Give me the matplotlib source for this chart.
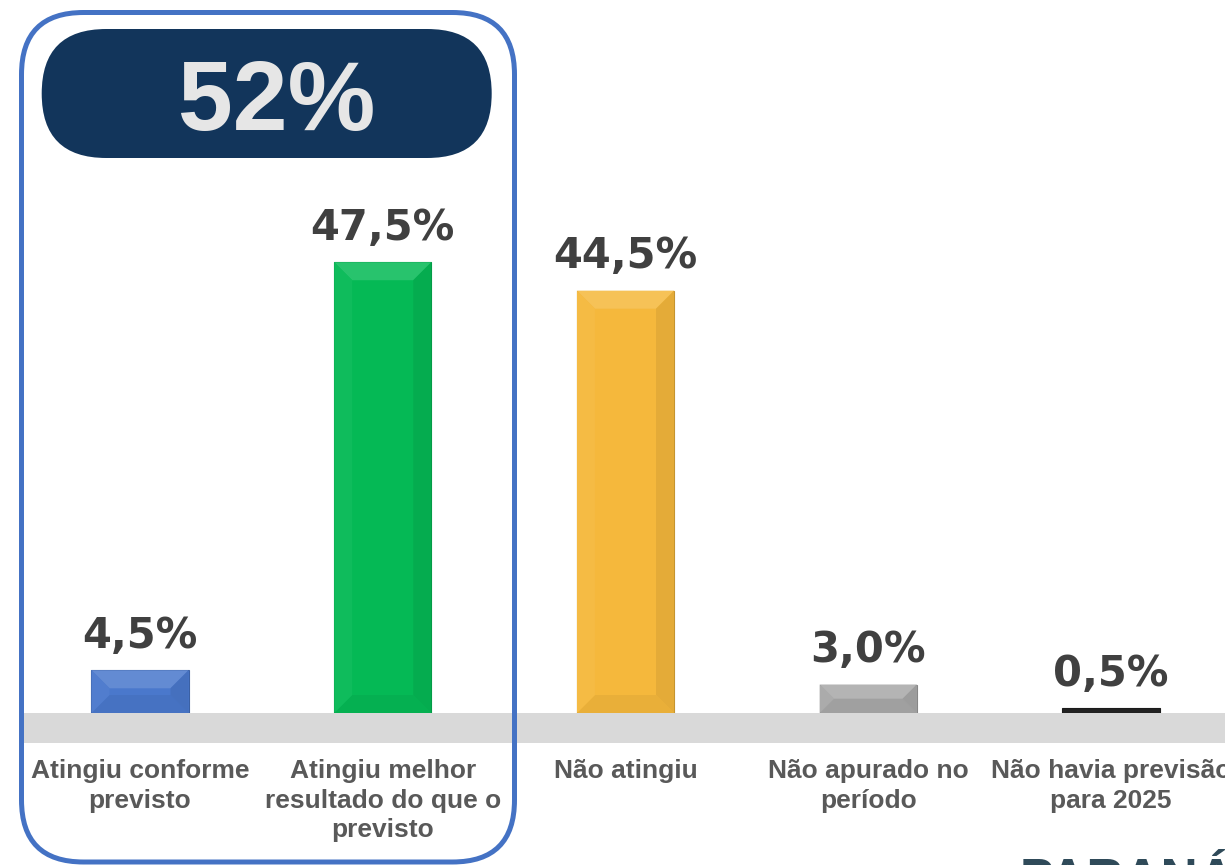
import matplotlib
matplotlib.use("Agg")
import matplotlib.pyplot as plt
from matplotlib.patches import Polygon, Rectangle, FancyBboxPatch
from matplotlib.colors import to_rgb

# Dados do gráfico
categorias = [
    "Atingiu conforme\nprevisto",
    "Atingiu melhor\nresultado do que o\nprevisto",
    "Não atingiu",
    "Não apurado no\nperíodo",
    "Não havia previsão\npara 2025",
]
valores = [4.5, 47.5, 44.5, 3.0, 0.5]
cores = ["#4a78cc", "#05b955", "#f5b83c", "#a8a8a8", "#222222"]
destaque = "52%"
rodape = "PARANÁ"


def misturar(cor, alvo, t):
    c = to_rgb(cor)
    a = to_rgb(alvo)
    return tuple(c[i] * (1 - t) + a[i] * t for i in range(3))


fig = plt.figure(figsize=(12.25, 8.65), dpi=100)
fig.patch.set_facecolor("white")

# eixo: base das barras em y=713 px, passo entre categorias 242.75 px
ax = fig.add_axes([0, 152 / 865, 1, 713 / 865])
ax.set_xlim(-140 / 242.75, (1225 - 140) / 242.75)
ax.set_ylim(0, 713 / 9.49)
ax.set_facecolor("none")
for s in ax.spines.values():
    s.set_visible(False)
ax.set_yticks([])

x = list(range(len(valores)))
largura = 0.40
barras = ax.bar(x, valores, width=largura, color=cores, zorder=3,
                edgecolor=[misturar(c, "black", 0.2) for c in cores], linewidth=0.8)

# efeito de chanfro nas barras
px_x = ax.transData.transform((1, 0))[0] - ax.transData.transform((0, 0))[0]
px_y = ax.transData.transform((0, 1))[1] - ax.transData.transform((0, 0))[1]
chanfro = 18
for b, c in zip(barras, cores):
    x0, x1 = b.get_x(), b.get_x() + b.get_width()
    y1 = b.get_height()
    if y1 * px_y < 6:
        continue
    by = min(chanfro, y1 * px_y / 2) / px_y
    bx = min(chanfro, y1 * px_y / 2) / px_x
    faces = [
        ([(x0, y1), (x1, y1), (x1 - bx, y1 - by), (x0 + bx, y1 - by)], misturar(c, "white", 0.14)),
        ([(x0, 0), (x1, 0), (x1 - bx, by), (x0 + bx, by)], misturar(c, "black", 0.05)),
        ([(x0, 0), (x0 + bx, by), (x0 + bx, y1 - by), (x0, y1)], misturar(c, "white", 0.04)),
        ([(x1, 0), (x1 - bx, by), (x1 - bx, y1 - by), (x1, y1)], misturar(c, "black", 0.07)),
    ]
    for pts, fc in faces:
        ax.add_patch(Polygon(pts, closed=True, facecolor=fc, edgecolor="none", zorder=4))

# rótulos de valor
for xi, v in zip(x, valores):
    ax.annotate(f"{v:.1f}".replace(".", ",") + "%", xy=(xi, v), xytext=(0, 16),
                textcoords="offset points", ha="center", va="baseline",
                fontsize=30, fontweight="bold", color="#404040",
                family="DejaVu Sans", zorder=5)

ax.set_xticks(x)
ax.set_xticklabels(categorias, family="Liberation Sans", fontweight="bold",
                   fontsize=19, color="#595959", linespacing=1.3)
ax.tick_params(axis="x", length=0, pad=33)

# faixa cinza do piso
fig.add_artist(Rectangle((22 / 1225, (865 - 743) / 865), 1 - 22 / 1225, 30 / 865,
                         transform=fig.transFigure, facecolor="#d9d9d9",
                         edgecolor="none", zorder=1))

# caixa de destaque arredondada
fig.add_artist(FancyBboxPatch((0.215, 0.03), 4.93, 8.495,
                              boxstyle="round,pad=0,rounding_size=0.62",
                              transform=fig.dpi_scale_trans, fill=False,
                              edgecolor="#4472c4", linewidth=3.6, zorder=6))

# pílula azul escura com 52%
fig.add_artist(FancyBboxPatch((0.417, 7.07), 4.50, 1.29,
                              boxstyle="round,pad=0,rounding_size=0.645",
                              transform=fig.dpi_scale_trans, facecolor="#12355b",
                              edgecolor="none", zorder=6))
fig.text(2.765, 7.35, destaque, transform=fig.dpi_scale_trans, ha="center",
         va="baseline", fontsize=71, fontweight="bold", family="Liberation Sans",
         color="#e6e6e6", zorder=7)

# texto cortado no rodapé
fig.text(10.2, -0.3, rodape, transform=fig.dpi_scale_trans, ha="left",
         va="baseline", fontsize=37, fontweight="bold", family="Liberation Sans",
         color="#2f4a59", zorder=7)

fig.savefig("out.png", dpi=100)
